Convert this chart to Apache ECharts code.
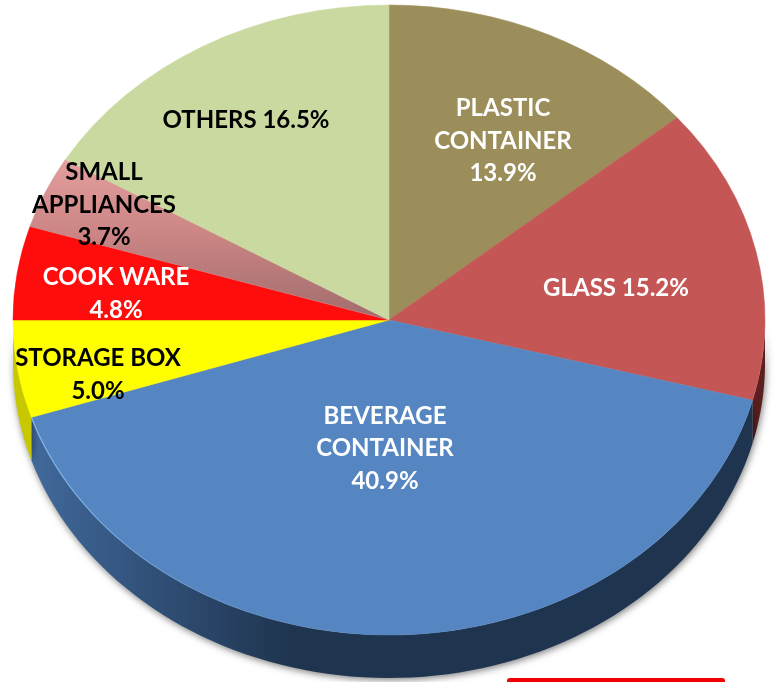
<!DOCTYPE html>
<html>
<head>
<meta charset="utf-8">
<style>html,body{margin:0;padding:0;background:#fff}#c{width:774px;height:682px}</style>
<script src="https://cdn.jsdelivr.net/npm/echarts@6/dist/echarts.min.js"></script>
</head>
<body>
<div id="c"></div>
<script>
const categories = ['PLASTIC CONTAINER','GLASS','BEVERAGE CONTAINER','STORAGE BOX','COOK WARE','SMALL APPLIANCES','OTHERS'];
const values = [13.9,15.2,40.9,5.0,4.8,3.7,16.5];
const labelNames = ['PLASTIC\nCONTAINER\n','GLASS ','BEVERAGE\nCONTAINER\n','STORAGE BOX\n','COOK WARE\n','SMALL\nAPPLIANCES\n','OTHERS '];

const CX=389, CY=320, RX=376, RY=315, DEPTH=43;
const LH=32.5, FONT='bold 24px Lato, Carlito, "Open Sans", sans-serif';
const anchors=[[503,141],[616,288],[385,448.5],[98,375],[116,294],[104,205],[246,120]];
const labelFill=['#fff','#fff','#fff','#000','#fff','#000','#000'];
const G=(x0,y0,x1,y1,s)=>new echarts.graphic.LinearGradient(x0,y0,x1,y1,s.map(c=>({offset:c[0],color:c[1]})));
const topFill=['#9b8e5a','#c45755','#5686c2','#ffff00','#ff0d0d',
  G(0,0,0,1,[[0,'#e59e9e'],[0.5,'#c98383'],[1,'#a06c6c']]),'#cad9a0'];
const wallFill=[null,'#5a1f1e',G(0,0,1,0,[[0,'#41699b'],[0.12,'#355782'],[0.36,'#1f344f'],[1,'#1f344f']]),'#c8c800',null,null,null];

const total=values.reduce((a,b)=>a+b,0);
const startOf=i=>values.slice(0,i).reduce((a,b)=>a+b,0)/total*Math.PI*2;
const pt=(a,dy)=>[CX+RX*Math.sin(a),CY+dy-RY*Math.cos(a)];

function wallItem(p){
  const i=p.dataIndex;
  const a0=Math.max(startOf(i),Math.PI/2), a1=Math.min(startOf(i+1),Math.PI*1.5);
  if(a1<=a0) return null;
  const upper=[],lower=[];
  for(let k=0;k<=80;k++){
    const a=a0+(a1-a0)*k/80;
    upper.push(pt(a,0)); lower.push(pt(a,DEPTH));
  }
  return {type:'polygon',shape:{points:upper.concat(lower.reverse())},
    style:{fill:wallFill[i],shadowBlur:7,shadowColor:'rgba(0,0,0,0.5)',shadowOffsetX:1,shadowOffsetY:2}};
}
function topItem(p){
  const i=p.dataIndex, off=-Math.PI/2;
  const fill=topFill[i], line=typeof fill==='string'?fill:'#c98383';
  const children=[{type:'group',x:CX,y:CY,scaleY:RY/RX,children:[{
    type:'sector',
    shape:{cx:0,cy:0,r0:0,r:RX,startAngle:startOf(i)+off,endAngle:startOf(i+1)+off,clockwise:true},
    style:{fill:fill,stroke:line,lineWidth:0.6}
  }]}];
  if(wallFill[i] && typeof wallFill[i]!=='string'){
    const pts=[];
    for(let k=0;k<=80;k++){ pts.push(pt(startOf(i)+(startOf(i+1)-startOf(i))*k/80,0)); }
    children.push({type:'polyline',shape:{points:pts},
      style:{fill:null,lineWidth:1.2,stroke:G(1,0,0,0,[[0,'rgba(130,180,240,0)'],[0.7,'rgba(130,180,240,0)'],[1,'rgba(140,190,245,0.9)']])}});
  }
  return {type:'group',children};
}
function labelItem(p,api){
  const i=p.dataIndex;
  return {type:'text',style:{
    text:labelNames[i]+api.value(0).toFixed(1)+'%',
    x:anchors[i][0],y:anchors[i][1],align:'center',verticalAlign:'middle',
    font:FONT,lineHeight:LH,fill:labelFill[i]}};
}
const data=values.map((v,i)=>({name:categories[i],value:[v]}));
const chart=echarts.init(document.getElementById('c'),null,{renderer:'canvas'});
chart.setOption({
  animation:false,
  backgroundColor:'#fff',
  series:[
    {type:'custom',coordinateSystem:'none',z:1,silent:true,renderItem:wallItem,data},
    {type:'custom',coordinateSystem:'none',z:2,silent:true,renderItem:topItem,data},
    {type:'custom',coordinateSystem:'none',z:3,silent:true,renderItem:labelItem,data}
  ],
  graphic:[{type:'rect',z:5,shape:{x:507,y:678,width:218,height:8,r:3},style:{fill:'#f00000'}}]
});
</script>
</body>
</html>
